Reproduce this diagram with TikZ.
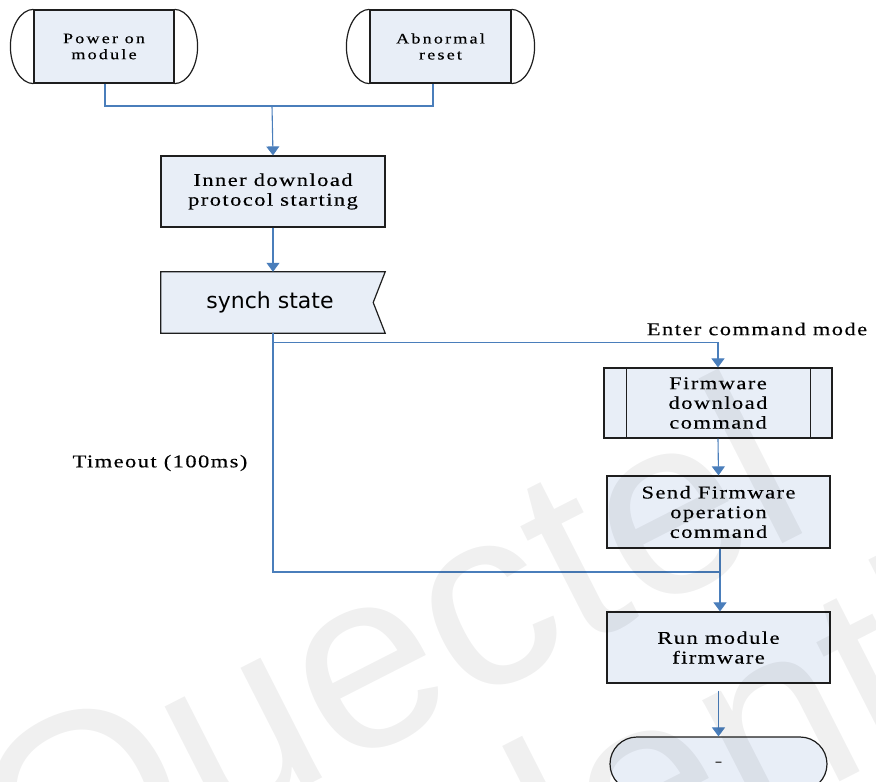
\documentclass[tikz,border=0pt]{standalone}
\usepackage{fontspec}
\setmainfont{Liberation Serif}
\newfontfamily\lblfont[FakeStretch=1.25,LetterSpace=8,FakeBold=0.3]{Liberation Serif}
\newfontfamily\lblsmallfont[FakeStretch=1.25,LetterSpace=15,FakeBold=0.3]{Liberation Serif}
\newfontfamily\vfont{DejaVu Sans}
\newfontfamily\wmfont{Liberation Sans}
\usetikzlibrary{arrows.meta}
\definecolor{boxfill}{HTML}{E8EEF7}
\definecolor{bordercol}{HTML}{1E1E1E}
\definecolor{conncol}{HTML}{4A7EBB}
\tikzset{
  outline/.style={draw=bordercol, line width=1.2pt},
  box/.style={outline, fill=boxfill, inner sep=0pt, align=center,
    font=\lblfont\fontsize{18}{19.7}\selectfont},
  smallbox/.style={outline, fill=boxfill, inner sep=0pt, align=center,
    minimum width=140pt, minimum height=73pt,
    font=\lblsmallfont\fontsize{14.5}{16}\selectfont},
  conn/.style={draw=conncol, line width=1.1pt},
  arr/.style={-{Triangle[length=9pt,width=13pt]}},
  lbl/.style={inner sep=0pt, font=\lblfont\fontsize{18}{20}\selectfont},
  wm/.style={inner sep=0pt, text=black, text opacity=0.06,
    font=\wmfont\fontsize{255}{255}\selectfont},
}
\begin{document}
\begin{tikzpicture}[x=1pt,y=-1pt]
\useasboundingbox (0,0) rectangle (876,782);
% top start shapes
\node[smallbox] (pwr) at (104,46.5) {Power on\\module};
\node[smallbox, minimum width=141pt] (abn) at (440.5,46.5) {Abnormal\\reset};
\foreach \n in {pwr,abn}{
  \draw[outline] (\n.north west) .. controls +(-12.7,0) and +(0,-20) .. ([xshift=-23pt]\n.west)
    .. controls +(0,20) and +(-12.7,0) .. (\n.south west);
  \draw[outline] (\n.north east) .. controls +(12.7,0) and +(0,-20) .. ([xshift=23pt]\n.east)
    .. controls +(0,20) and +(12.7,0) .. (\n.south east);
}
% main boxes
\node[box, minimum width=224pt, minimum height=71pt] (inner) at (273,191.5) {Inner download\\protocol starting};
\node[inner sep=0pt, minimum width=224pt, minimum height=61pt] (synch) at (273,302.5) {};
\draw[outline, fill=boxfill] (synch.north west) -- (synch.north east) -- ([xshift=-12pt]synch.east)
  -- (synch.south east) -- (synch.south west) -- cycle;
\node[inner sep=0pt, font=\vfont\fontsize{22}{24}\selectfont] (synchtxt) at (270,302) {synch state};
\node[box, minimum width=228pt, minimum height=70pt] (fw) at (718,403) {Firmware\\download\\command};
\draw[outline] ([xshift=23pt]fw.north west) -- ([xshift=23pt]fw.south west);
\draw[outline] ([xshift=-22pt]fw.north east) -- ([xshift=-22pt]fw.south east);
\node[box, minimum width=223pt, minimum height=72pt] (send) at (718.5,512) {Send Firmware\\operation\\command};
\node[box, minimum width=223pt, minimum height=71pt] (run) at (718.5,647.5) {Run module\\firmware};
\node[box, minimum width=217pt, minimum height=54pt, rounded corners=27pt, text=black!70] (term) at (718.5,764) {-};
% labels
\node[lbl] (lenter) at (757,329) {Enter command mode};
\node[lbl] (ltime) at (160,463) {Timeout (100ms)};
% connectors
\coordinate (j1) at (272,106);
\coordinate (jm) at (720,572);
\draw[conn] ([xshift=1pt]pwr.south) |- (j1) -| ([xshift=-7.5pt]abn.south);
\draw[conn, arr] (j1) -- (inner.north);
\draw[conn, arr] (inner.south) -- (synch.north);
\draw[conn] (synch.south) |- (jm);
\draw[conn, arr] ([yshift=-9pt]synch.south) -| (fw.north);
\draw[conn, arr] (fw.south) -- (send.north);
\draw[conn, arr] ([xshift=1.5pt]send.south) -- ([xshift=1.5pt]run.north);
\draw[conn, arr] ([yshift=-7pt]run.south) -- (term.north);
% watermark
\begin{scope}
\clip (0,0) rectangle (876,782);
\node[wm, anchor=base west, rotate=27] (wm1) at (35,925) {Quectel};
\node[wm, anchor=base west, rotate=27] (wm2) at (-35,1228) {Confidential};
\end{scope}
\end{tikzpicture}
\end{document}
